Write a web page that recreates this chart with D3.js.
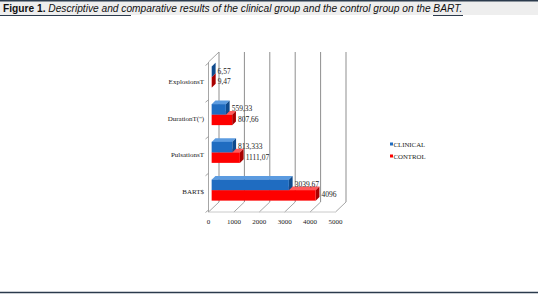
<!DOCTYPE html>
<html>
<head>
<meta charset="utf-8">
<script src="https://cdn.jsdelivr.net/npm/d3@7"></script>
<style>
html,body{margin:0;padding:0;background:#fff;}
svg{display:block;}
</style>
</head>
<body>
<svg id="c" width="538" height="299"></svg>
<script>
// ---- data ----
const categories = ["ExplosionsT", "DurationT('')", "PulsationsT", "BART$"];
const clinical = [6.57, 559.33, 813.333, 3039.67];
const control = [9.47, 807.66, 1111.07, 4096];
const clinicalLabels = ["6,57", "559,33", "813,333", "3039,67"];
const controlLabels = ["9,47", "807,66", "1111,07", "4096"];
const seriesNames = ["CLINICAL", "CONTROL"];
const xTicks = [0, 1000, 2000, 3000, 4000, 5000];
const titleBold = "Figure 1.";
const titleRest = " Descriptive and comparative results of the clinical group and the control group on the BART.";

// ---- styles ----
const serif = "'Liberation Serif','Times New Roman',serif";
const sans = "'Liberation Sans',Arial,sans-serif";
const colors = {
  CLINICAL: {front: "#1f6cc1", top: "#5b9be0", side: "#0f4a8c"},
  CONTROL: {front: "#fe0000", top: "#ff5a5a", side: "#a80000"}
};
const gridCol = "#8f8f8f";

const svg = d3.select("#c");

// title bar
svg.append("rect").attr("x", 0).attr("y", 1).attr("width", 538).attr("height", 14).attr("fill", "#eeeeee");
svg.append("line").attr("x1", 0).attr("x2", 538).attr("y1", 0.75).attr("y2", 0.75).attr("stroke", "#2b3a4c").attr("stroke-width", 1.5);
svg.append("line").attr("x1", 0).attr("x2", 131).attr("y1", 15.5).attr("y2", 15.5).attr("stroke", "#2b3a4c").attr("stroke-width", 1);
svg.append("line").attr("x1", 433).attr("x2", 463).attr("y1", 15.5).attr("y2", 15.5).attr("stroke", "#2b3a4c").attr("stroke-width", 1);
const tt = svg.append("text").attr("x", 3).attr("y", 11.5).attr("font-family", sans).attr("font-size", 10.2).attr("fill", "#111");
tt.append("tspan").attr("font-weight", "bold").text(titleBold);
tt.append("tspan").attr("font-style", "italic").text(titleRest);
// bottom rule
svg.append("line").attr("x1", 0).attr("x2", 538).attr("y1", 292.5).attr("y2", 292.5).attr("stroke", "#2b3a4c").attr("stroke-width", 1.5);

// ---- 3D chart geometry ----
const x = d3.scaleLinear().domain([0, 5000]).range([208.5, 335.5]);
const yCat = d3.scaleBand().domain(categories).range([63, 210]);
const yBar = d3.scaleBand().domain(categories).range([58, 209]);
const ySer = d3.scaleBand().domain(seriesNames).range([0, 21]);
const floorY = 212, topY = 62;
const D = {dx: 10.5, dy: -10};
const p = (px, py, f) => [px + D.dx * f, py + D.dy * f];

const g = svg.append("g");

// back wall gridlines
xTicks.forEach(t => {
  const [bx, by] = p(x(t), floorY, 1);
  g.append("line").attr("x1", bx).attr("x2", bx).attr("y1", by).attr("y2", p(x(t), topY, 1)[1])
    .attr("stroke", gridCol).attr("stroke-width", 1);
  g.append("line").attr("x1", x(t)).attr("y1", floorY).attr("x2", bx).attr("y2", by)
    .attr("stroke", gridCol).attr("stroke-width", 0.8);
});
g.append("line").attr("x1", x(0)).attr("x2", x(5000)).attr("y1", floorY).attr("y2", floorY)
  .attr("stroke", "#bdbdbd").attr("stroke-width", 0.8);
g.append("line").attr("x1", x(0)).attr("x2", x(0)).attr("y1", topY).attr("y2", floorY)
  .attr("stroke", gridCol).attr("stroke-width", 0.8);
g.append("line").attr("x1", x(0)).attr("y1", topY).attr("x2", p(x(0), topY, 1)[0]).attr("y2", p(x(0), topY, 1)[1])
  .attr("stroke", gridCol).attr("stroke-width", 0.8);
const bounds = categories.map(c => yCat(c)).concat([yCat(categories[categories.length - 1]) + yCat.bandwidth()]);
bounds.forEach(b => {
  g.append("line").attr("x1", x(0)).attr("y1", b).attr("x2", x(0) - 3).attr("y2", b + 2.5)
    .attr("stroke", gridCol).attr("stroke-width", 0.8);
});

// x tick labels
xTicks.forEach(t => {
  g.append("text").attr("x", x(t)).attr("y", 223.5).attr("text-anchor", "middle")
    .attr("font-family", serif).attr("font-size", 7).attr("fill", "#222").text(t);
});
// category labels
categories.forEach(c => {
  g.append("text").attr("x", 204).attr("y", yCat(c) + yCat.bandwidth() / 2 + 2.5).attr("text-anchor", "end")
    .attr("font-family", serif).attr("font-size", 7).attr("fill", "#222").text(c);
});

// bars
const f0 = 0.3, fd = 0.36;
const seriesData = {CLINICAL: {vals: clinical, labels: clinicalLabels}, CONTROL: {vals: control, labels: controlLabels}};
const drawOrder = ["CONTROL", "CLINICAL"];
categories.forEach((c, i) => {
  drawOrder.forEach(s => {
    const v = seriesData[s].vals[i];
    const col = colors[s];
    const y0 = yBar(c) + (yBar.bandwidth() - 21) / 2 + ySer(s);
    const h = ySer.bandwidth();
    const xl = x(0), xr = x(v);
    const ox = D.dx * f0;
    const FTL = [xl + ox, y0], FTR = [xr + ox, y0], FBR = [xr + ox, y0 + h];
    const back = pt => [pt[0] + D.dx * fd, pt[1] + D.dy * fd];
    const bar = g.append("g");
    bar.append("polygon").attr("points", [FTL, FTR, back(FTR), back(FTL)].map(q => q.join(",")).join(" ")).attr("fill", col.top);
    bar.append("polygon").attr("points", [FTR, back(FTR), back(FBR), FBR].map(q => q.join(",")).join(" ")).attr("fill", col.side);
    bar.append("rect").attr("x", FTL[0]).attr("y", FTL[1]).attr("width", Math.max(0, FTR[0] - FTL[0])).attr("height", h).attr("fill", col.front);
    g.append("text").attr("x", back(FTR)[0] + 2).attr("y", y0 + h / 2 + 2)
      .attr("font-family", serif).attr("font-size", 7.5).attr("fill", "#222").text(seriesData[s].labels[i]);
  });
});

// legend
seriesNames.forEach((s, i) => {
  const ly = 145 + i * 12;
  svg.append("rect").attr("x", 390).attr("y", ly - 2.5).attr("width", 3).attr("height", 3).attr("fill", colors[s].front);
  svg.append("text").attr("x", 393.5).attr("y", ly + 1.5).attr("font-family", serif).attr("font-size", 6.8)
    .attr("fill", "#222").text(s);
});
</script>
</body>
</html>
